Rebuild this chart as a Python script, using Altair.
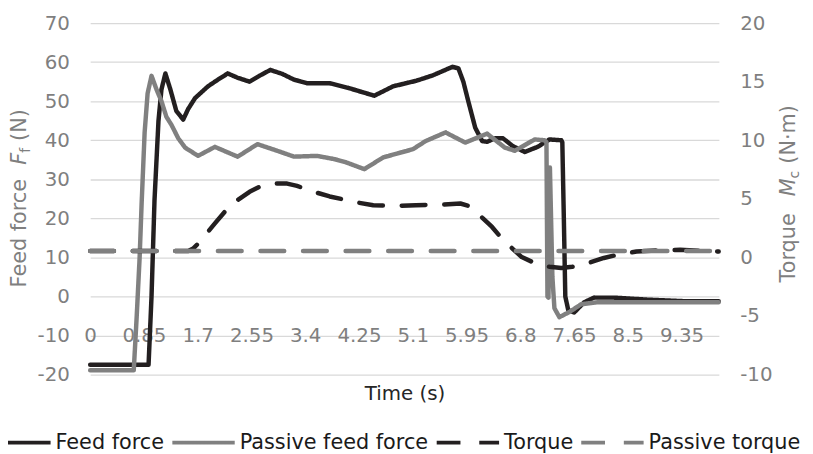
import altair as alt
import pandas as pd

# ---------------- data (time in s) ----------------
series_names = ["Feed force", "Passive feed force", "Torque", "Passive torque"]
series_colors = ["#231f20", "#808080", "#231f20", "#808080"]
series_dash = [[1, 0], [1, 0], [24, 19], [24, 19]]

feed_force = [
    (0.0, -17.5), (0.908, -17.5), (0.923, -17.5), (0.970, 0.0), (1.017, 24.6),
    (1.080, 45.0), (1.127, 53.0), (1.189, 57.1), (1.268, 53.0), (1.362, 47.5),
    (1.471, 45.3), (1.549, 48.0), (1.659, 50.8), (1.862, 53.8), (2.019, 55.5),
    (2.175, 57.1), (2.332, 56.0), (2.520, 55.0), (2.676, 56.5), (2.848, 58.0),
    (3.036, 57.0), (3.224, 55.5), (3.427, 54.6), (3.787, 54.6), (4.100, 53.3),
    (4.491, 51.4), (4.789, 53.8), (5.149, 55.2), (5.415, 56.6), (5.728, 58.8),
    (5.822, 58.4), (5.900, 55.0), (5.978, 50.0), (6.088, 43.2), (6.197, 39.8),
    (6.275, 39.6), (6.401, 40.5), (6.526, 40.5), (6.682, 38.5), (6.870, 37.0),
    (7.074, 38.3), (7.261, 40.2), (7.449, 40.0), (7.465, 39.5), (7.489, 20.0),
    (7.512, 0.0), (7.559, -3.5), (7.653, -4.1), (7.809, -1.5), (7.966, -0.3),
    (8.279, -0.3), (8.795, -0.8), (9.374, -1.2), (9.937, -1.2),
]

passive_feed_force = [
    (0.0, -18.9), (0.689, -18.9), (0.736, -5.0), (0.782, 10.0), (0.814, 24.0),
    (0.861, 42.0), (0.908, 52.0), (0.970, 56.5), (1.049, 53.0), (1.127, 50.0),
    (1.205, 46.0), (1.283, 44.0), (1.393, 40.5), (1.502, 38.1), (1.706, 36.0),
    (1.972, 38.3), (2.332, 35.8), (2.645, 39.0), (2.958, 37.3), (3.224, 35.8),
    (3.584, 36.0), (3.850, 35.2), (4.053, 34.3), (4.335, 32.6), (4.632, 35.6),
    (5.102, 37.7), (5.305, 39.8), (5.618, 42.0), (5.931, 39.4), (6.275, 41.7),
    (6.557, 38.1), (6.714, 37.3), (7.027, 40.2), (7.183, 40.0), (7.214, 39.5),
    (7.230, 0.0), (7.246, -0.3), (7.269, 33.0), (7.308, 5.0), (7.340, -3.0),
    (7.418, -5.3), (7.574, -4.0), (7.762, -2.0), (8.013, -1.5), (9.937, -1.5),
]

torque = [
    (0.0, 0.55), (1.549, 0.55), (1.628, 0.75), (1.737, 1.35), (1.972, 2.9),
    (2.144, 4.0), (2.332, 4.9), (2.520, 5.6), (2.692, 6.06), (2.879, 6.3),
    (3.114, 6.3), (3.271, 6.1), (3.537, 5.6), (3.787, 5.2), (4.210, 4.7),
    (4.476, 4.45), (4.883, 4.4), (5.149, 4.45), (5.571, 4.5), (5.853, 4.6),
    (5.978, 4.4), (6.088, 4.0), (6.197, 3.4), (6.354, 2.6), (6.510, 1.6),
    (6.667, 0.8), (6.823, 0.03), (7.074, -0.6), (7.261, -0.8), (7.449, -0.9),
    (7.621, -0.8), (7.809, -0.6), (8.122, -0.05), (8.357, 0.25), (8.638, 0.5),
    (8.983, 0.6), (9.327, 0.65), (9.937, 0.5),
]

passive_torque = [(0.0, 0.55), (4.97, 0.55), (9.937, 0.55)]

x_ticks = [0, 0.85, 1.7, 2.55, 3.4, 4.25, 5.1, 5.95, 6.8, 7.65, 8.5, 9.35]
force_ticks = [-20, -10, 0, 10, 20, 30, 40, 50, 60, 70]
torque_ticks = [-10, -5, 0, 5, 10, 15, 20]


def frame(name, pairs):
    return pd.DataFrame({
        "series": name,
        "t": [p[0] for p in pairs],
        "v": [p[1] for p in pairs],
        "i": list(range(len(pairs))),
    })


force_df = pd.concat([frame("Feed force", feed_force),
                      frame("Passive feed force", passive_feed_force)])
torque_df = pd.concat([frame("Torque", torque),
                       frame("Passive torque", passive_torque)])

FONT = "DejaVu Sans"
GRAY = "#7f7f7f"

legend = alt.Legend(
    orient="none", legendX=-105, legendY=390, direction="horizontal", columns=4,
    title=None, symbolType="stroke", symbolSize=3969, symbolStrokeWidth=4,
    labelFontSize=21, labelFont=FONT, labelColor="#1a1a1a", labelOffset=3,
    columnPadding=0, labelLimit=400,
)
color_enc = alt.Color("series:N", scale=alt.Scale(domain=series_names, range=series_colors),
                      legend=legend)
dash_enc = alt.StrokeDash("series:N", scale=alt.Scale(domain=series_names, range=series_dash),
                          legend=legend)

x_enc = alt.X(
    "t:Q",
    scale=alt.Scale(domain=[0, 9.94], nice=False, zero=False),
    axis=alt.Axis(
        values=x_ticks, labelExpr="datum.value + ''", offset=-39, domain=False,
        ticks=False, tickSize=0,
        labelPadding=0, labelBaseline="middle", labelFlush=False, labelOverlap=False,
        labelFontSize=20, labelFont=FONT, labelColor=GRAY, grid=False,
        title="Time (s)", titleFont=FONT, titleFontSize=20, titleFontWeight="normal",
        titleColor="#262626", titleY=58, titleBaseline="middle",
    ),
)

force_layer = alt.Chart(force_df).mark_line(strokeWidth=4.5, strokeCap="round", strokeJoin="round").encode(
    x=x_enc,
    y=alt.Y("v:Q", scale=alt.Scale(domain=[-20, 70], nice=False),
            axis=alt.Axis(values=force_ticks, labelExpr="datum.value + ''", orient="left",
                          title=None, domain=False,
                          ticks=False, labelPadding=21, labelFontSize=20, labelFont=FONT,
                          labelColor=GRAY, grid=True, gridColor="#d9d9d9", gridWidth=1.3)),
    color=color_enc,
    strokeDash=dash_enc,
    order="i:Q",
)

torque_layer = alt.Chart(torque_df).mark_line(strokeWidth=4.5, strokeCap="round", strokeJoin="round").encode(
    x=x_enc,
    y=alt.Y("v:Q", scale=alt.Scale(domain=[-10, 20], nice=False),
            axis=alt.Axis(values=torque_ticks, labelExpr="datum.value + ''", orient="right",
                          title=None, domain=False,
                          ticks=False, labelPadding=21, labelFontSize=20, labelFont=FONT,
                          labelColor=GRAY, grid=False)),
    color=color_enc,
    strokeDash=dash_enc,
    order="i:Q",
)

# rotated axis titles with italic symbol and subscript
one = pd.DataFrame({"k": [0]})


def rot_text(txt, x, y, size=21, style="normal"):
    return alt.Chart(one).mark_text(
        angle=270, align="left", baseline="alphabetic", font=FONT, fontSize=size,
        fontStyle=style, color=GRAY,
    ).encode(x=alt.value(x), y=alt.value(y), text=alt.value(txt))


left_title = [
    rot_text("Feed force", -65, 267),
    rot_text("F", -65, 143, style="italic"),
    rot_text("f", -61, 131, size=14),
    rot_text("(N)", -65, 119),
]
right_title = [
    rot_text("Torque", 712, 262),
    rot_text("M", 712, 175, style="italic"),
    rot_text("c", 716, 157, size=14),
    rot_text("(N·m)", 712, 142),
]

chart = alt.layer(force_layer, torque_layer, *left_title, *right_title).resolve_scale(
    y="independent"
).properties(
    width=635, height=355,
    autosize=alt.AutoSizeParams(type="none"),
    padding={"left": 83, "top": 13, "right": 87, "bottom": 78},
).configure_view(stroke=None)

chart.save("out.html", embed_options={"renderer": "svg", "actions": False})
